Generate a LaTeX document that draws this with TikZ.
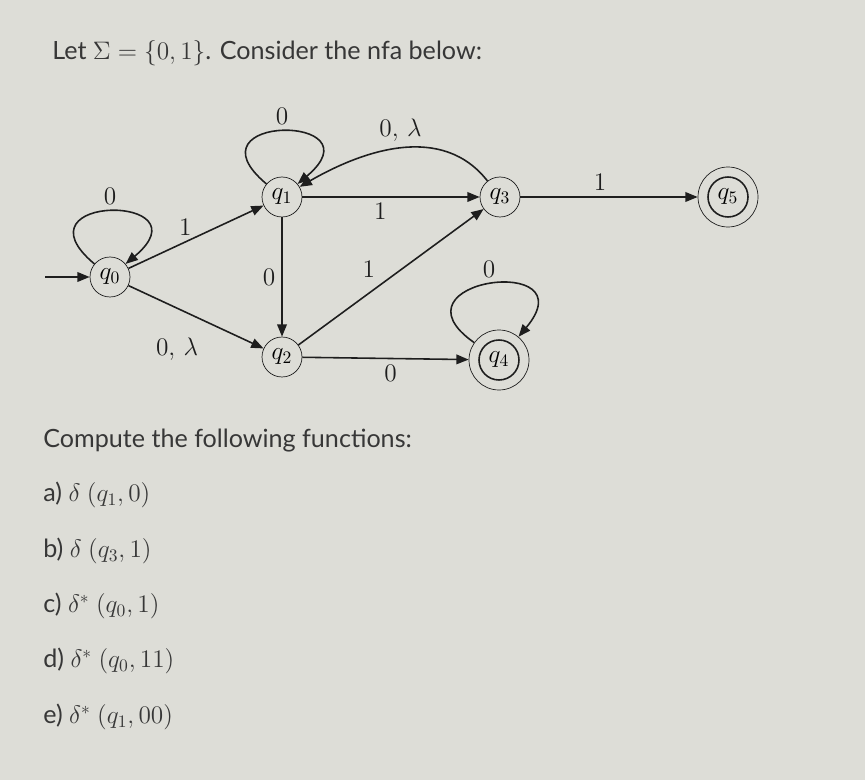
\documentclass[tikz,border=0pt]{standalone}
\usepackage{fontspec}
\setmainfont{Lato}
\usepackage{tikz}
\usetikzlibrary{arrows.meta}

\definecolor{screen}{RGB}{221,221,215}
\definecolor{ink}{RGB}{30,30,30}
\definecolor{textgray}{RGB}{55,55,55}

\begin{document}
\begin{tikzpicture}[x=0.02cm, y=0.02cm,
    state/.style={draw=ink, circle, minimum size=0.8cm, inner sep=0pt, font=\Large},
    accept/.style={state, minimum size=1.2cm},
    trans/.style={draw=ink, line width=0.9pt, -{Triangle[length=7pt,width=5.5pt]}},
    lbl/.style={font=\Large, text=ink},
    prose/.style={anchor=west, inner sep=0pt, text=textgray, font=\fontsize{14.3}{17}\selectfont}]
        \fill[screen] (0,0) rectangle (865,-780);
        \useasboundingbox (0,0) rectangle (865,-780);

        \node (title) at (52,-53) [prose] {Let $\Sigma = \{0, 1\}$. Consider the nfa below:};

        \node (q0) at (110,-277) [state] {$q_0$};
        \node (q1) at (282,-197) [state] {$q_1$};
        \node (q2) at (282,-357) [state] {$q_2$};
        \node (q3) at (500,-197) [state] {$q_3$};
        \node (q4) at (499,-360) [accept] {$q_4$};
        \node (q5) at (728,-197) [accept] {$q_5$};
        \draw[ink, line width=0.9pt] (q4.center) circle (0.4cm);
        \draw[ink, line width=0.9pt] (q5.center) circle (0.4cm);
        \coordinate (start) at (45,-277);

        \draw[trans] (start) -- (q0);
        \draw[trans] (q0) to[out=140, in=40, looseness=9] node[lbl, above] {$0$} (q0);
        \draw[trans] (q1) to[out=140, in=40, looseness=9] node[lbl, above] {$0$} (q1);
        \draw[trans] (q4) to[out=145, in=50, looseness=6.3] node[lbl, above] {$0$} (q4);
        \draw[trans] (q0) to node[lbl, above, pos=0.42] {$1$} (q1);
        \draw[trans] (q0) to node[lbl, below=13pt, pos=0.36] {$0,\,\lambda$} (q2);
        \draw[trans] (q1) to node[lbl, left] {$0$} (q2);
        \draw[trans] (q1) to node[lbl, below, pos=0.44] {$1$} (q3);
        \draw[trans] (q2) to node[lbl, above left, pos=0.45] {$1$} (q3);
        \draw[trans] (q2) to node[lbl, below, pos=0.53] {$0$} (q4);
        \draw[trans] (q3) to[out=128, in=30] node[lbl, above] {$0,\,\lambda$} (q1);
        \draw[trans] (q3) to node[lbl, above, pos=0.45] {$1$} (q5);

        \node (ask) at (43,-441) [prose] {Compute the following functions:};
        \node (ia) at (43,-495) [prose] {a) $\delta\ (q_1, 0)$};
        \node (ib) at (43,-551) [prose] {b) $\delta\ (q_3, 1)$};
        \node (ic) at (43,-606) [prose] {c) $\delta^{*}\ (q_0, 1)$};
        \node (id) at (43,-661) [prose] {d) $\delta^{*}\ (q_0, 11)$};
        \node (ie) at (43,-717) [prose] {e) $\delta^{*}\ (q_1, 00)$};
    \end{tikzpicture}
\end{document}
